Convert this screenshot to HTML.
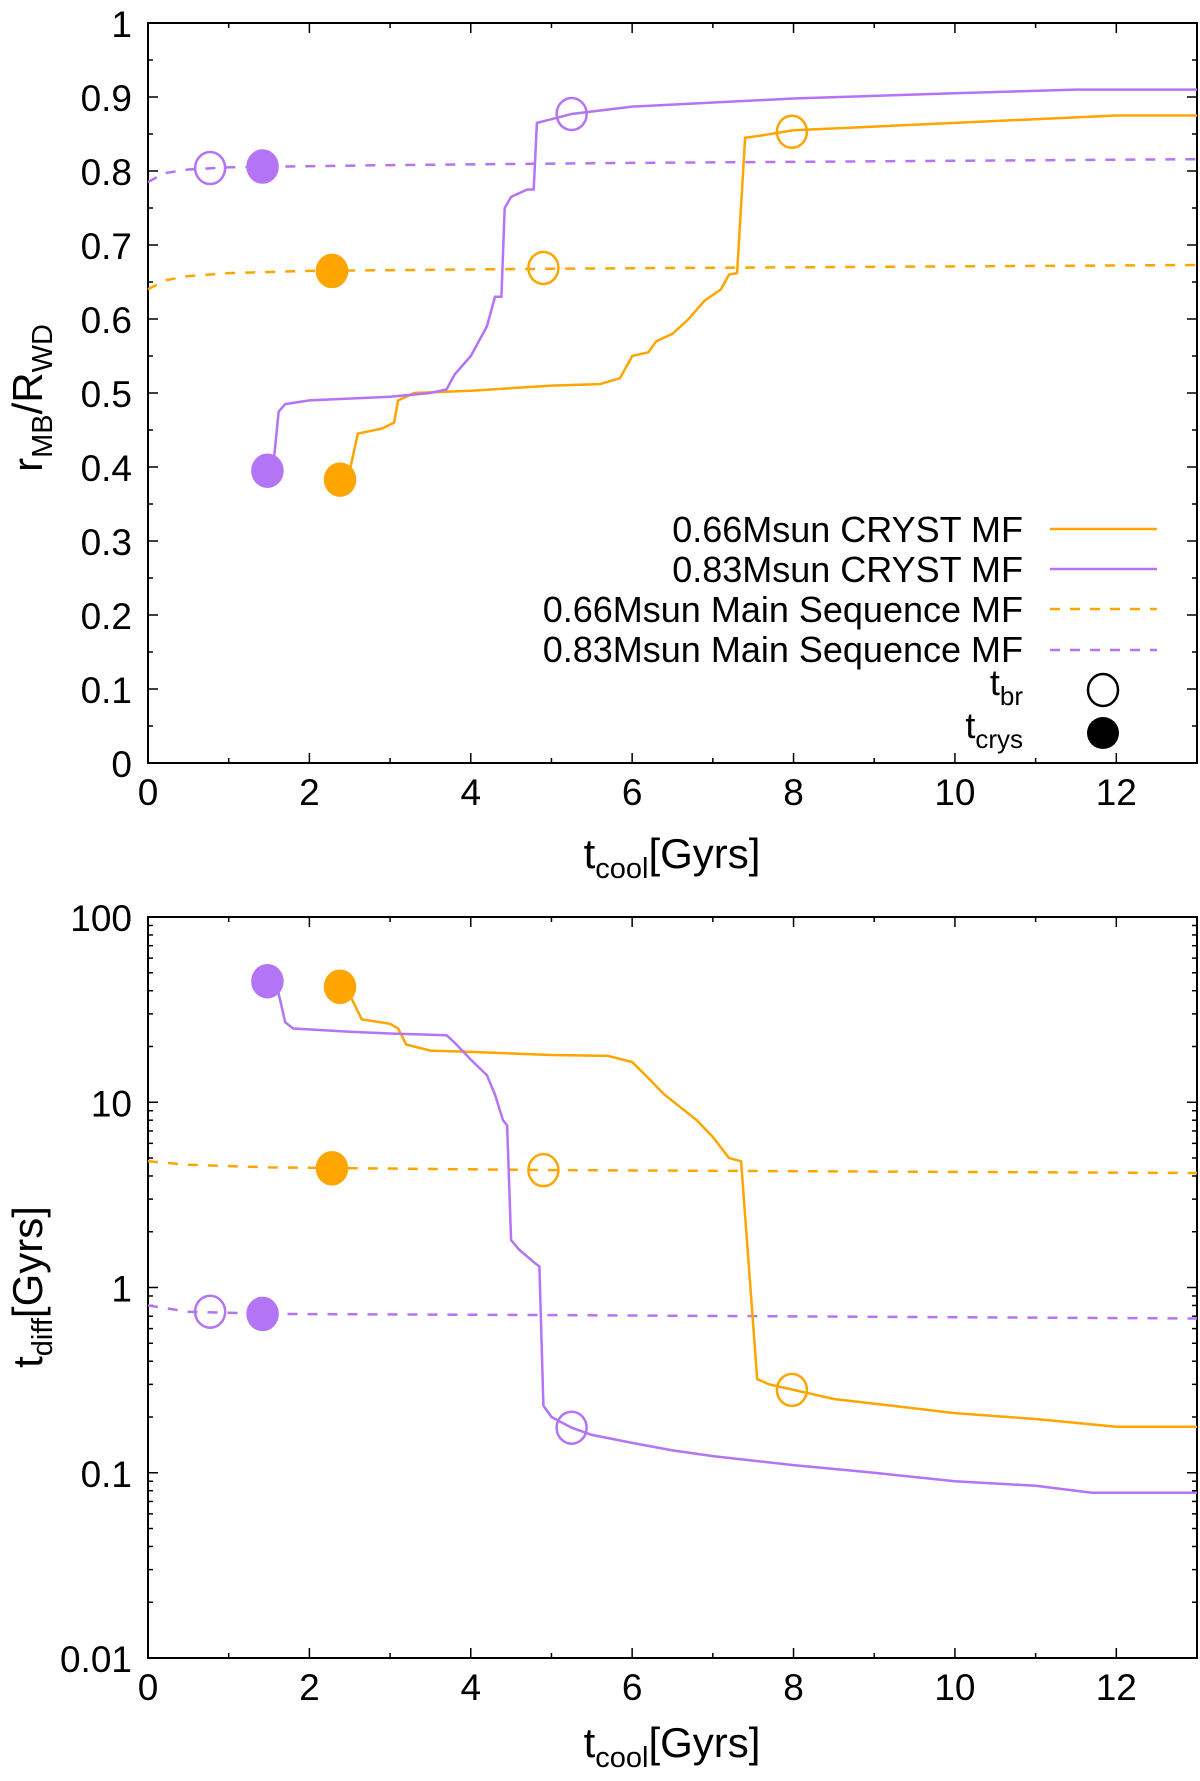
<!DOCTYPE html>
<html><head><meta charset="utf-8"><style>
html,body{margin:0;padding:0;background:#fff;}
svg{display:block;font-family:"Liberation Sans",sans-serif;}
</style></head><body>
<svg id="c" width="1200" height="1781" viewBox="0 0 1200 1781"></svg>
<script>
// ---- data: top panel (r_MB/R_WD) ----
const orangeCrystT=[2.5,2.6,2.9,3.05,3.1,3.3,4,5,5.6,5.85,6.0,6.2,6.3,6.5,6.7,6.9,7.1,7.2,7.3,7.4,7.6,8,9,10,12,13];
const orangeCrystR=[0.395,0.445,0.452,0.46,0.49,0.50,0.503,0.51,0.512,0.52,0.55,0.555,0.57,0.58,0.60,0.625,0.64,0.66,0.662,0.845,0.848,0.855,0.86,0.865,0.875,0.875];
const purpleCrystT=[1.55,1.62,1.7,2,3,3.5,3.7,3.8,4.0,4.2,4.3,4.38,4.42,4.5,4.7,4.78,4.82,5.0,5.25,6,8,10,11.5,13];
const purpleCrystR=[0.40,0.475,0.485,0.49,0.495,0.50,0.505,0.525,0.55,0.59,0.63,0.63,0.75,0.765,0.775,0.775,0.865,0.87,0.877,0.887,0.898,0.905,0.91,0.91];
const orangeMsT=[0,0.2,0.5,1,2,5,13];
const orangeMsR=[0.64,0.652,0.658,0.662,0.665,0.668,0.673];
const purpleMsT=[0,0.2,0.5,1,3,6,13];
const purpleMsR=[0.785,0.797,0.802,0.805,0.808,0.811,0.816];
const topOpen=[[0.77,0.804,'p'],[5.25,0.877,'p'],[4.9,0.669,'o'],[7.98,0.853,'o']];
const topFilled=[[1.42,0.806,'p'],[1.48,0.395,'p'],[2.28,0.665,'o'],[2.38,0.383,'o']];
// ---- data: bottom panel (t_diff) ----
const orangeDiffT=[2.5,2.65,3,3.1,3.2,3.5,4,5,5.7,6,6.2,6.4,6.8,7,7.2,7.35,7.55,7.7,8,8.5,10,11,12,13];
const orangeDiffV=[38,28,26.5,25,20.5,19,18.7,18,17.8,16.5,13.5,11,8,6.5,5,4.8,0.32,0.3,0.28,0.25,0.21,0.195,0.177,0.177];
const purpleDiffT=[1.6,1.7,1.8,2.5,3,3.7,3.8,4.0,4.2,4.3,4.4,4.45,4.5,4.6,4.8,4.85,4.9,5.0,5.25,5.5,6,6.5,7,8,9,10,11,11.7,13];
const purpleDiffV=[42,27,25,24,23.5,23,21,17,14,11,8,7.5,1.8,1.6,1.35,1.3,0.23,0.2,0.175,0.16,0.145,0.132,0.123,0.11,0.1,0.09,0.085,0.078,0.078];
const orangeMsDiffT=[0,0.5,1.5,5,13];
const orangeMsDiffV=[4.8,4.6,4.45,4.3,4.15];
const purpleMsDiffT=[0,0.5,1.5,5,13];
const purpleMsDiffV=[0.8,0.74,0.72,0.71,0.68];
const botOpen=[[0.77,0.74,'p'],[5.25,0.175,'p'],[4.9,4.3,'o'],[7.98,0.28,'o']];
const botFilled=[[1.42,0.72,'p'],[1.48,45,'p'],[2.28,4.4,'o'],[2.38,42,'o']];
const xTicks=[0,2,4,6,8,10,12];
const yTicksTop=['0','0.1','0.2','0.3','0.4','0.5','0.6','0.7','0.8','0.9','1'];
const yTicksBot=['0.01','0.1','1','10','100'];

const OR='#FFA500', PU='#B374F5';
const svg=document.getElementById('c');
const NS='http://www.w3.org/2000/svg';
function mk(t,a,p){const e=document.createElementNS(NS,t);for(const k in a)e.setAttribute(k,a[k]);(p||svg).appendChild(e);return e;}
const L=148,R=1197;
const sx=t=>L+(R-L)*t/13;
const T1=23,B1=763;
const sy1=v=>B1-(B1-T1)*v;
const T2=917,B2=1658;
const sy2=v=>B2-(B2-T2)*(Math.log10(v)+2)/4;

function frame(T,B,name){
  const g=mk('g',{});
  
  
  mk('rect',{x:L,y:T,width:R-L,height:B-T,fill:'none',stroke:'#000','stroke-width':2},g);
  for(let t=0;t<=13;t++){const x=sx(t),len=t%2==0?10:5;
    mk('line',{x1:x,y1:B,x2:x,y2:B-len,stroke:'#000','stroke-width':1.5},g);
    mk('line',{x1:x,y1:T,x2:x,y2:T+len,stroke:'#000','stroke-width':1.5},g);}
  xTicks.forEach(t=>{const e=mk('text',{x:sx(t),y:B+42,'font-size':37,'text-anchor':'middle'},g);e.textContent=t;
    });
  return g;
}
function path(ts,vs,sy,col,dash,name){
  const d=ts.map((t,i)=>(i?'L':'M')+sx(t).toFixed(1)+' '+sy(vs[i]).toFixed(1)).join(' ');
  const e=mk('path',{d:d,fill:'none',stroke:col,'stroke-width':2.5});
  if(dash)e.setAttribute('stroke-dasharray','10 10');
  
}
function markers(list,filled,sy,name){
  list.forEach(m=>{const col=m[2]=='p'?PU:OR;
    const e=mk('ellipse',{cx:sx(m[0]),cy:sy(m[1]),rx:15,ry:16,fill:filled?col:'none',stroke:col,'stroke-width':2.5});
    });
}
const g1=frame(T1,B1,'top-panel');
for(let i=0;i<=20;i++){const y=sy1(i*0.05),len=i%2==0?10:5;
  mk('line',{x1:L,y1:y,x2:L+len,y2:y,stroke:'#000','stroke-width':1.5},g1);
  mk('line',{x1:R,y1:y,x2:R-len,y2:y,stroke:'#000','stroke-width':1.5},g1);}
yTicksTop.forEach(s=>{const e=mk('text',{x:132,y:sy1(parseFloat(s))+14,'font-size':37,'text-anchor':'end'});e.textContent=s;
  });
path(orangeMsT,orangeMsR,sy1,OR,true,'orange-ms-line');
path(purpleMsT,purpleMsR,sy1,PU,true,'purple-ms-line');
path(orangeCrystT,orangeCrystR,sy1,OR,false,'orange-cryst-line');
path(purpleCrystT,purpleCrystR,sy1,PU,false,'purple-cryst-line');
markers(topOpen,false,sy1,'t-br-marker');
markers(topFilled,true,sy1,'t-crys-marker');
const g2=frame(T2,B2,'bottom-panel');
for(let d=-2;d<2;d++){for(let k=1;k<10;k++){const y=sy2(k*Math.pow(10,d)),len=k==1?10:5;
  mk('line',{x1:L,y1:y,x2:L+len,y2:y,stroke:'#000','stroke-width':1.5},g2);
  mk('line',{x1:R,y1:y,x2:R-len,y2:y,stroke:'#000','stroke-width':1.5},g2);}}
yTicksBot.forEach(s=>{const e=mk('text',{x:132,y:sy2(parseFloat(s))+14,'font-size':37,'text-anchor':'end'});e.textContent=s;
  });
path(orangeMsDiffT,orangeMsDiffV,sy2,OR,true,'orange-ms-line');
path(purpleMsDiffT,purpleMsDiffV,sy2,PU,true,'purple-ms-line');
path(orangeDiffT,orangeDiffV,sy2,OR,false,'orange-cryst-line');
path(purpleDiffT,purpleDiffV,sy2,PU,false,'purple-cryst-line');
markers(botOpen,false,sy2,'t-br-marker');
markers(botFilled,true,sy2,'t-crys-marker');
</script>
<svg width="1200" height="1781" style="position:absolute;left:0;top:0">
<g font-family="Liberation Sans, sans-serif" fill="#000">
<text x="0" y="0" font-size="42" transform="translate(42,398) rotate(-90)" text-anchor="middle">r<tspan font-size="29" dy="10">MB</tspan><tspan dy="-10">/R</tspan><tspan font-size="29" dy="10">WD</tspan></text>
<text x="672" y="868" font-size="42" text-anchor="middle">t<tspan font-size="29" dy="10">cool</tspan><tspan dy="-10">[Gyrs]</tspan></text>
<text x="0" y="0" font-size="42" transform="translate(42,1287) rotate(-90)" text-anchor="middle">t<tspan font-size="29" dy="10">diff</tspan><tspan dy="-10">[Gyrs]</tspan></text>
<text x="672" y="1757" font-size="42" text-anchor="middle">t<tspan font-size="29" dy="10">cool</tspan><tspan dy="-10">[Gyrs]</tspan></text>
<g font-size="36" text-anchor="end">
<text x="1023" y="542">0.66Msun CRYST MF</text>
<line x1="1050" y1="529" x2="1157" y2="529" stroke="#FFA500" stroke-width="2.5"/>
<text x="1023" y="582">0.83Msun CRYST MF</text>
<line x1="1050" y1="569" x2="1157" y2="569" stroke="#B374F5" stroke-width="2.5"/>
<text x="1023" y="622">0.66Msun Main Sequence MF</text>
<line x1="1050" y1="609" x2="1157" y2="609" stroke="#FFA500" stroke-width="2.5" stroke-dasharray="10 10"/>
<text x="1023" y="662">0.83Msun Main Sequence MF</text>
<line x1="1050" y1="650" x2="1157" y2="650" stroke="#B374F5" stroke-width="2.5" stroke-dasharray="10 10"/>
<text x="1023" y="695">t<tspan font-size="26" dy="10">br</tspan></text>
<ellipse cx="1103" cy="690" rx="15" ry="16" fill="none" stroke="#000" stroke-width="2.5"/>
<text x="1023" y="738">t<tspan font-size="26" dy="10">crys</tspan></text>
<ellipse cx="1103" cy="733" rx="16" ry="16" fill="#000"/>
</g>
</g>
</svg>
</body></html>
